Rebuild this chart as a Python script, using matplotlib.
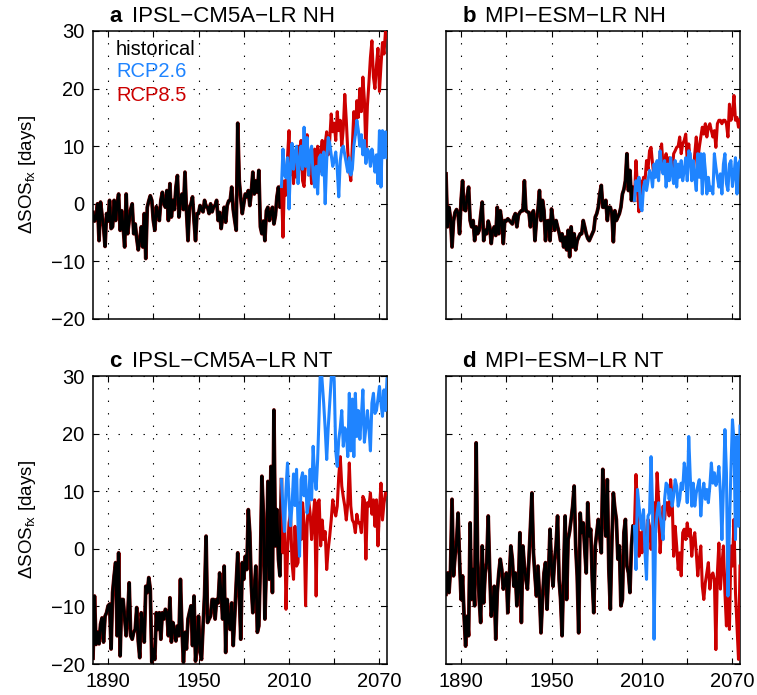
import numpy as np
import matplotlib
matplotlib.use('Agg')
import matplotlib.pyplot as plt

plt.rcParams['font.family'] = ['Liberation Sans', 'DejaVu Sans']
plt.rcParams['lines.scale_dashes'] = False

hist_years = np.arange(1880, 2006)
rcp_years = np.arange(2006, 2076)

# a: IPSL-CM5A-LR NH
hist_a = [-1.5, -3, -2.5, 0, -6.4, 0.3, -2, -4, -7.4, -1.7,
          -3, 0.6, -4.3, -4, 0.6, -2.9, 0, 1.7, -4.6, -1.2,
          -4, -7.5, 1.7, -5.2, -2.9, -1, 0, -5.2, -3.5, -6,
          -8, -6.4, -4, -7.5, -1.7, -9.5, -0.6, 0.5, 1.4, 0.6,
          -2.9, -4.6, -0.5, -1.7, -2.9, 0.6, 2, 0, -0.6, 2.3,
          -2.9, 3.5, -2.3, 0.6, -1, 2.9, 4.9, -2.3, 0.6, 1.7,
          -1, 5.5, -1.2, -6.4, -0.6, 0, 1.2, -2.9, -6.4, -1.7,
          -1.7, -0.3, -1, -1.4, 0.6, -0.5, -0.6, -1.7, 0, -1.4,
          -0.5, -0.3, 0.6, -2.9, -1.5, -4.3, -2.3, -0.6, -3.2, -0.3,
          0.5, 0.6, 2.9, -1, -2.9, -4.6, 14, 4, 1, -1.7,
          0, 1.7, 1.2, 2.3, -0.3, 2, 5.5, 1.7, 4, 2,
          5.8, -4, -5.2, -3, -6.4, -1.2, -0.6, -2.9, -1.5, -0.6,
          -3.5, -2, 1.2, 2.9, -0.6, 3]
rcp26_a = [9.5, 5, 4.5, 8, -0.9, 6.5, 10.5, 6, 9, 10,
           3.5, 7.5, 10, 6, 13.3, 6.5, 11.5, 5, 9, 10,
           5, 2.9, 6.5, 1.7, 8, 8.5, 5, 9, 0, 7.5,
           11.5, 10.5, 8.5, 6.5, 7.5, 9, 6, 1.2, 7.5, 9.5,
           10, 8.5, 7, 5.5, 8, 5, 6, 10, 12, 14.5,
           12.7, 10, 12, 8.5, 11, 7, 9.5, 9, 6.5, 9.5,
           8, 5.5, 8.5, 3.5, 12.7, 2.9, 12.7, 8, 12.5, 8]
rcp85_a = [-5.8, 4, 1.5, 8, 12.7, 5, 9, 3.5, 8.5, 4.6,
           10, 6, 11, 4, 3, 8, 12, 5, 7.5, 3.5,
           8, 9.5, 6, 10, 5.5, 9, 11, 8, 10.5, 12.5,
           8.5, 11, 15.6, 12.5, 14, 11, 16, 12.7, 14.5, 10,
           13, 19, 14.5, 9, 6, 4, 10, 16, 12, 17.9,
           15, 20, 16, 22, 18, 9, 17, 21, 25.4, 28.3,
           22, 20, 24, 27, 19.5, 24, 28, 26, 30, 29]

# b: MPI-ESM-LR NH
hist_b = [5.2, -4, -0.6, -2.5, -7.5, -3, -1.5, -1, -1.7, -5.2,
          0.6, 4, -1, -1.2, 1.2, 2.9, -2.9, -4, -2.9, -6.4,
          -4, -5.2, -4.6, -2, 0.3, -6.4, -4.6, -5.2, -3, -4,
          -6.9, -4.6, -4, -5.5, -0.6, -5.2, -1.2, -3, -6.9, -2.9,
          -3, -2.6, -2.9, -3.2, -3.5, -2.3, -1.7, -4, -2, -1.5,
          -1.2, -1.2, 4, -1.2, -1.4, -1.5, -4, -1.7, -1.2, -6.4,
          -2.9, -1, 2.3, -2.9, 0.6, -1.2, -6.4, -3, -2.9, -6.4,
          -0.9, -2.9, -4.6, -2.9, -4, -5, -6.4, -5.2, -7.5, -5.8,
          -8, -4.6, -9.2, -4, -7.5, -5.2, -8, -6.4, -5.8, -5.2,
          -5.2, -2.9, -4, -5.2, -6, -6.4, -5.8, -5.2, -4.6, -2.3,
          -1.7, -0.6, 1.7, 3.2, -0.6, -0.6, 0.6, -2.9, -0.6, -0.6,
          -1.7, -6.6, -1.2, -2.9, -2.3, -1.7, -0.6, 1.7, 2.5, 4,
          8.7, 2.3, 5.8, 0.6, 2.9, 0.6]
rcp26_b = [4, 2.3, 4.6, -0.6, -1.2, 2.9, 4, 2.3, 4, 5.8,
           5.2, 2.9, 6.9, 4.6, 7.5, 4, 9.2, 6.4, 5.2, 7.5,
           2.9, 6.9, 4, 8, 5.2, 3.5, 7.5, 2.9, 6.9, 4.6,
           7.5, 4, 5.8, 8, 4, 9.2, 8.7, 4, 7.5, 4.6,
           2.3, 8.7, 4.6, 8.7, 1.7, 8.7, 5.8, 1.7, 4.6, 2.3,
           2.9, 1.7, 8.7, 6.4, 4.6, 2.9, 5.2, 1.7, 6.9, 8.7,
           3.5, 2.3, 6.9, 7.5, 3, 5, 8, 1.7, 7, 7.5]
rcp85_b = [7.5, 2.9, -1.4, 4, 1.7, 4.6, 4, 7.5, 6, 9.2,
           9.8, 6.9, 4.6, 6.9, 6.4, 5.2, 8.7, 10.4, 6.4, 6.9,
           8.7, 5.8, 8, 6.9, 5.2, 8.7, 9.2, 9.8, 10, 11.6,
           8.7, 10.4, 11, 12.1, 7.5, 10.4, 7.5, 6.4, 5.2, 8.7,
           11.6, 7.5, 9.8, 11.6, 13.3, 12.1, 13.9, 11.6, 13.3, 13.9,
           12.7, 11.6, 12.7, 9.8, 13.9, 14.5, 14.5, 13.9, 14.5, 14.5,
           13.9, 11.6, 17.3, 14.5, 15.6, 18.8, 14.5, 15, 13.3, 14.5]

# c: IPSL-CM5A-LR NT
hist_c = [-19, -8.2, -16.6, -14.5, -16.5, -13.1, -12, -16.2, -11.7, -11.1,
          -9.9, -9.6, -17.4, -7.6, -4.7, -2.4, -15.1, -0.7, -18.6, -8.8,
          -8.8, -12, -15.1, -11.7, -5.9, -15.1, -15.7, -14.5, -14, -10.2,
          -16, -18.9, -11.1, -13, -16.2, -6.5, -7.6, -5, -7, -19.7,
          -17.4, -19.2, -11.1, -14, -11.1, -15.7, -11.1, -12.2, -10.5, -11.1,
          -15.1, -8.5, -16.2, -12.8, -14, -16, -13.4, -15.1, -5.3, -14,
          -19.7, -14.5, -17.4, -12.2, -11, -9.9, -16.8, -8.2, -19.5, -16.2,
          -11.7, -18, -19.2, -13.4, -8, 2.2, -12.8, -12.2, -11.7, -8.8,
          -8.8, -12.2, -8.8, -9.4, -4.2, -8, -12.2, -3, -18, -8.8,
          -12.2, -14, -9.4, -16.8, -11.7, -6, -0.7, -7.6, -15.7, -2.4,
          -5.3, -1.3, -3.6, 6.8, 2.8, -6.4, -11.1, -7, -3, -14.5,
          -13.4, -3, 12.6, 6.2, -12.2, -3, 11.7, -5.3, 14.3, -7.6,
          24.1, 0.5, 6.8, -1.8, -4.7, 12]
rcp26_c = [6.8, 3, 10.3, 14.9, 8.5, 4, 7.5, 13, 7.5, 13.8,
           4, -1.3, 12, 13.2, 9.2, 12.6, 6.2, 8, 13.8, 8.5,
           17.8, 12.6, 10.3, 15.5, 23.6, 33, 29, 25.3, 20.8, 15.5,
           21, 25.3, 29.5, 33, 29, 17, 14.3, 19, 21, 24,
           17.8, 21, 20, 16, 27, 17, 26, 16, 27, 19.5,
           24, 19, 23, 27.6, 18.5, 21, 24, 21, 17, 25.3,
           27, 23.5, 24, 26, 28.2, 25.3, 23, 27.6, 24, 29.5]
rcp85_c = [-0.7, 6.2, -10.5, -0.7, 4.5, 6.2, -2.4, -5.3, 3.9, -3,
           -2.4, 8, 1.6, 8, 4.5, -9.9, 3.9, 8.5, 6.2, 1.6,
           5, 8.5, -8.2, 8, 8.5, 0.5, 5, 1.6, 3, -3.6,
           -0.1, 2.2, 5, 8.5, 6.8, 5.7, 7.4, 12.6, 16, 10.9,
           9, 7.4, 5, 7.9, 14.9, 7.4, 5, 4.5, 2.8, 6,
           4.5, 4.5, 2.8, 9.1, 8.5, -1.8, 8, 7.4, 9.7, 6,
           8.5, 3.9, 8.5, 0.5, 6.8, 11.4, 5, 7.9, 9.7, 9.5]

# d: MPI-ESM-LR NT
hist_d = [-7.9, -4.2, -7.6, -3.6, 8.6, -4.7, -1.3, 1, 6.2, -2,
          -8.8, -4.7, -11.7, -16.9, -11.7, -15.1, 4.5, -8.8, -3.6, -9.9,
          18.4, -1.8, -8.8, -12.8, 0.5, -9.4, -4.2, -2.4, 5.7, -4,
          -11.7, -9.9, -6.5, -15.7, -7.6, -4.2, -1.8, -3.6, -7, -5.9,
          -4.2, -11.1, -5, 0.5, -1.8, -6.5, -4.2, -9.9, -7, 2.8,
          -12.8, 0.5, -3, -5.3, -7, -1.8, 3.9, 9.7, -0.7, -4.7,
          -8.2, -3, -8, -14.6, -8.8, -4.2, -2.4, -10.5, -4.2, 3.4,
          -3, -6.5, -2, 0.5, 5.7, -5.3, -8.8, -15.1, -4.2, 5.7,
          -8.8, 1.6, 3, 5.1, 7.4, 10.9, 0.5, -4.7, -14.6, 6.2,
          2.8, 4.5, 0, -4.2, 8, 2.2, 3.4, -5.3, -11.1, 0.5,
          2.8, 5.1, 2, -0.7, 13.8, 8.6, 2.2, 12, -3.6, -10.5,
          1, 9.7, 7, 5.1, -1.8, 0.5, -9.9, -8.8, 2.8, 5.1,
          -3, -4.2, -7.6, 0.5, 4, 3.9]
rcp26_d = [-3.6, 10.3, 7.4, 5.1, 3.4, 6.8, -0.7, -5.3, 5.7, 6.2,
           16, 7.4, -15.7, 2.8, 6.2, 8, 5.7, 3.9, 1.6, 8.6,
           11.4, 11, 8.6, 10.3, 7.4, 9.2, 12, 10.9, 7.4, 8.6,
           11.4, 10.3, 14.9, 13.2, 8, 19.5, 12.5, 7.4, 11.4, 7.4,
           9.7, 10.9, 12, 5.7, 9.7, 11.4, 8.6, 10.3, 8, 10.9,
           14.9, 11.4, 13.2, 11, 12, 14.3, 9.7, 1.6, 10.4, 20.7,
           13.2, -8.2, 3.9, 13.8, 22.4, 18.8, 1.6, 19.5, 3.9, 21.3]
rcp85_d = [12.9, 7.4, -1.3, 2.8, -0.7, 5.1, 1.6, -1.3, 5.1, 3.9,
           -0.1, 2.8, 8, 2.8, 13.2, 8.6, -0.7, 3.9, 7.4, 5.1,
           8, 8, 5.7, 12, 8.6, -1.3, 3.9, 0.5, -3.6, -0.7,
           -4.7, 2.8, 3.4, 1.6, 4.5, 2.2, 3.4, -1.3, 1.6, 2.8,
           -0.7, -4.7, -1.8, 0.5, -6.5, -8.8, -5.9, -4.2, -2.4, -7,
           -4.7, -4.2, -5.3, -17.5, -4.2, 1, -7, -3, 0.5, -7.6,
           -13.4, 0.5, -14, 0.5, -3, 5.1, -7.6, -13.4, -19.2, -3]

letters = ['a', 'b', 'c', 'd']
names = ['IPSL\u2212CM5A\u2212LR NH', 'MPI\u2212ESM\u2212LR NH',
         'IPSL\u2212CM5A\u2212LR NT', 'MPI\u2212ESM\u2212LR NT']
hist_all = [hist_a, hist_b, hist_c, hist_d]
rcp26_all = [rcp26_a, rcp26_b, rcp26_c, rcp26_d]
rcp85_all = [rcp85_a, rcp85_b, rcp85_c, rcp85_d]

blue = '#1f84ff'
red = '#cc0000'

W, H = 757, 695
fig = plt.figure(figsize=(W / 100, H / 100), dpi=100)
# axes corners in pixels (left, top)
corners = [(93, 31), (446, 31), (93, 376), (446, 376)]
aw, ah = 294, 288

for i in range(4):
    x0, y0 = corners[i]
    ax = fig.add_axes([x0 / W, 1 - (y0 + ah) / H, aw / W, ah / H])
    h = np.array(hist_all[i])
    ax.plot(hist_years, h, color='#7a0000', lw=2.7, zorder=2)
    ax.plot(hist_years, h, color='k', lw=2.0, zorder=3)
    ax.plot(np.r_[hist_years[-1], rcp_years], np.r_[h[-1], rcp85_all[i]],
            color=red, lw=2.2, zorder=4)
    ax.plot(np.r_[hist_years[-1], rcp_years], np.r_[h[-1], rcp26_all[i]],
            color=blue, lw=2.2, zorder=5)

    ax.set_xlim(1880, 2075)
    ax.set_ylim(-20, 30)
    ax.set_xticks(np.arange(1890, 2071, 30))
    ax.set_yticks(np.arange(-20, 31, 10))
    ax.grid(True, color='k', linestyle=(0, (1, 8)), linewidth=0.8)
    ax.tick_params(direction='in', top=True, right=True, length=4, width=0.8,
                   labelsize=14.5, pad=6)
    for s in ax.spines.values():
        s.set_linewidth(1.1)
    if i >= 2:
        ax.set_xticklabels(['1890', '', '1950', '', '2010', '', '2070'])
    else:
        ax.set_xticklabels([])
    if i % 2 == 0:
        ax.set_ylabel('\u0394SOS$_{\\mathregular{fx}}$ [days]', fontsize=13.5)
        ax.yaxis.set_label_coords(-0.187, 0.5)
    else:
        ax.set_yticklabels([])

    ax.text(0.056, 1.03, letters[i], transform=ax.transAxes, fontsize=16,
            fontweight='bold', va='baseline')
    ax.text(0.133, 1.03, names[i], transform=ax.transAxes, fontsize=16,
            va='baseline')

    if i == 0:
        ax.text(0.078, 0.917, 'historical', color='k', fontsize=14.5,
                transform=ax.transAxes, va='baseline')
        ax.text(0.078, 0.840, 'RCP2.6', color=blue, fontsize=14.5,
                transform=ax.transAxes, va='baseline')
        ax.text(0.078, 0.757, 'RCP8.5', color=red, fontsize=14.5,
                transform=ax.transAxes, va='baseline')

fig.savefig('out.png', dpi=100)
